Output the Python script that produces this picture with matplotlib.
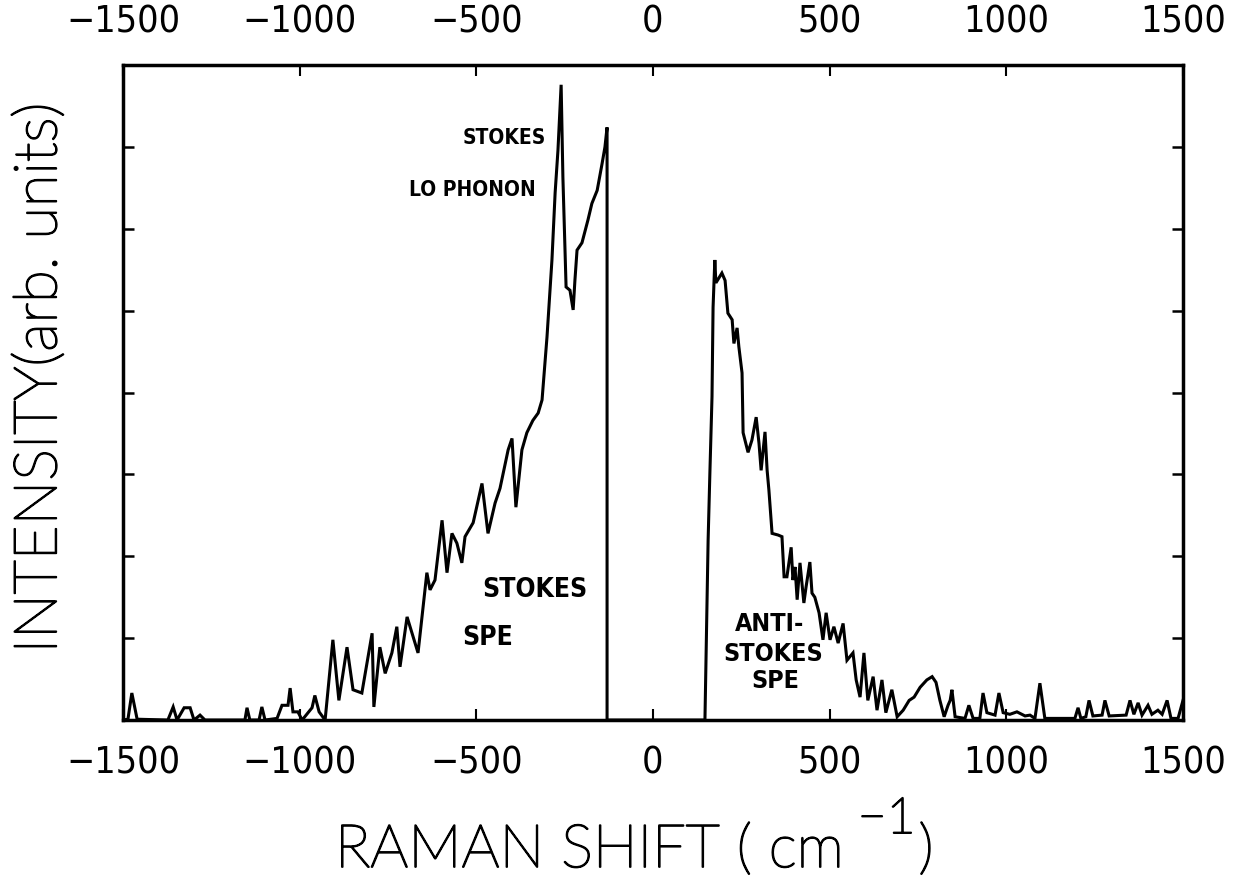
import matplotlib
matplotlib.use("Agg")
import matplotlib.pyplot as plt
import matplotlib.patheffects as pe
from matplotlib import font_manager

# Stokes side (negative shift)
stokes_x = [-1500, -1486, -1475, -1460, -1373, -1358, -1347, -1327, -1310, -1299,
            -1282, -1268, -1155, -1149, -1141, -1115, -1107, -1098, -1064, -1050,
            -1033, -1027, -1019, -1005, -993, -965, -957, -945, -928, -906,
            -889, -866, -849, -824, -795, -790, -773, -758, -739, -725,
            -716, -696, -665, -640, -631, -617, -597, -583, -569, -555,
            -541, -532, -509, -484, -467, -447, -433, -410, -399, -388,
            -371, -357, -340, -325, -314, -300, -286, -277, -269, -260,
            -255, -246, -235, -226, -221, -215, -201, -192, -184, -173,
            -158, -144, -136, -130, -130]
stokes_y = [0.0, 0.01, 0.33, 0.01, 0.0, 0.16, 0.0, 0.15, 0.15, 0.0,
            0.06, 0.0, 0.0, 0.15, 0.0, 0.0, 0.16, 0.0, 0.02, 0.18,
            0.18, 0.39, 0.10, 0.10, 0.0, 0.15, 0.30, 0.10, 0.0, 0.98,
            0.24, 0.89, 0.37, 0.33, 1.06, 0.16, 0.89, 0.57, 0.82, 1.14,
            0.65, 1.26, 0.82, 1.80, 1.59, 1.71, 2.44, 1.80, 2.28, 2.16,
            1.92, 2.24, 2.41, 2.89, 2.28, 2.65, 2.83, 3.30, 3.44, 2.60,
            3.30, 3.51, 3.66, 3.75, 3.91, 4.68, 5.62, 6.44, 6.96, 7.76,
            6.63, 5.29, 5.25, 5.01, 5.37, 5.74, 5.83, 5.98, 6.11, 6.31,
            6.47, 6.80, 7.00, 7.24, 0.0]

# anti-Stokes side (positive shift)
anti_x = [147, 156, 161, 167, 170, 175, 178, 195, 204, 212,
          224, 229, 238, 243, 252, 255, 269, 280, 292, 300,
          306, 317, 323, 328, 337, 354, 365, 371, 379, 391,
          396, 402, 408, 416, 427, 433, 444, 450, 458, 470,
          481, 490, 501, 512, 524, 538, 549, 566, 575, 586,
          597, 608, 623, 634, 648, 659, 676, 691, 708, 725,
          739, 756, 775, 790, 801, 812, 824, 835, 841, 846,
          855, 883, 894, 906, 925, 934, 945, 968, 979, 991,
          1010, 1030, 1053, 1067, 1081, 1095, 1109, 1194, 1203, 1211,
          1225, 1234, 1245, 1271, 1279, 1291, 1339, 1350, 1361, 1373,
          1384, 1401, 1412, 1429, 1441, 1455, 1466, 1486, 1500]
anti_y = [0.0, 2.20, 3.02, 3.95, 5.04, 5.62, 5.34, 5.46, 5.37, 4.97,
          4.89, 4.60, 4.79, 4.56, 4.24, 3.51, 3.27, 3.42, 3.70, 3.38,
          3.05, 3.52, 3.05, 2.81, 2.28, 2.26, 2.24, 1.75, 1.75, 2.11,
          1.71, 1.87, 1.47, 1.92, 1.43, 1.62, 1.93, 1.55, 1.50, 1.31,
          0.98, 1.31, 0.98, 1.14, 0.94, 1.18, 0.73, 0.82, 0.49, 0.28,
          0.82, 0.24, 0.53, 0.12, 0.49, 0.09, 0.37, 0.04, 0.12, 0.24,
          0.28, 0.40, 0.49, 0.53, 0.46, 0.24, 0.04, 0.18, 0.24, 0.37,
          0.04, 0.02, 0.18, 0.02, 0.02, 0.33, 0.09, 0.06, 0.33, 0.09,
          0.07, 0.10, 0.05, 0.06, 0.02, 0.45, 0.02, 0.02, 0.15, 0.02,
          0.04, 0.24, 0.05, 0.06, 0.24, 0.05, 0.06, 0.24, 0.07, 0.21,
          0.06, 0.18, 0.07, 0.12, 0.07, 0.24, 0.02, 0.02, 0.24]

x_ticks = [-1500, -1000, -500, 0, 500, 1000, 1500]
tick_labels = ["\u22121500", "\u22121000", "\u2212500", "0", "500", "1000", "1500"]

# pick a narrow face if one is installed, else plain DejaVu
fonts = font_manager.fontManager.ttflist
names = {f.name for f in fonts}
if any(f.name == "DejaVu Sans" and "ondensed" in str(f.stretch) for f in fonts):
    narrow = dict(fontfamily="DejaVu Sans", fontstretch="condensed")
elif "Liberation Sans Narrow" in names:
    narrow = dict(fontfamily="Liberation Sans Narrow")
else:
    narrow = dict(fontfamily="DejaVu Sans")

fig = plt.figure(figsize=(12.5, 8.85), dpi=100)
ax = fig.add_axes([0.0984, 0.1864, 0.848, 0.740])

ax.plot(stokes_x + [-130, 147] + anti_x, stokes_y + [0.0, 0.0] + anti_y,
        color="black", lw=2.2, solid_joinstyle="miter")

ax.set_xlim(-1500, 1500)
ax.set_ylim(0, 8)
ax.set_xticks(x_ticks)
ax.set_xticklabels(tick_labels, fontsize=27, **narrow)
ax.set_yticks(range(9))
ax.set_yticklabels([])
ax.tick_params(axis="x", direction="in", top=True, labeltop=True,
               length=8, width=1.5, pad=18)
ax.tick_params(axis="y", direction="in", left=True, right=True,
               length=8, width=1.8)
for s in ax.spines.values():
    s.set_linewidth(2.5)

# annotations
bold = dict(fontweight="bold", color="black", **narrow)
ax.text(-303, 7.11, "STOKES", ha="right", va="center", fontsize=15, **bold)
ax.text(-331, 6.47, "LO PHONON", ha="right", va="center", fontsize=15, **bold)
ax.text(-484, 1.59, "STOKES", ha="left", va="center", fontsize=19, **bold)
ax.text(-541, 1.00, "SPE", ha="left", va="center", fontsize=19, **bold)
ax.text(232, 1.17, "ANTI-", ha="left", va="center", fontsize=18, **bold)
ax.text(340, 0.81, "STOKES", ha="center", va="center", fontsize=18, **bold)
ax.text(345, 0.48, "SPE", ha="center", va="center", fontsize=18, **bold)

# axis titles in a thin face; the x one is built in pieces for the big exponent
thin = dict(fontfamily="Lato", fontweight="light", color="black",
            path_effects=[pe.Stroke(linewidth=1.3, foreground="black"), pe.Normal()])
W, H = 1250, 885
base = 1 - 867 / H
r = fig.canvas.get_renderer()
t1 = fig.text(335 / W, base, "RAMAN SHIFT ( cm", va="baseline", ha="left",
              fontsize=43, **thin)
x1 = t1.get_window_extent(r).x1
t2 = fig.text((x1 + 14) / W, base + 34 / H, "\u22121", va="baseline", ha="left",
              fontsize=36, **thin)
x2 = t2.get_window_extent(r).x1
fig.text((x2 + 3) / W, base, ")", va="baseline", ha="left", fontsize=43, **thin)

fig.text(40 / W, 1 - 378 / H, "INTENSITY(arb. units)", rotation=90,
         ha="center", va="center", fontsize=43, **thin)

fig.savefig("out.png", dpi=100, facecolor="white")
